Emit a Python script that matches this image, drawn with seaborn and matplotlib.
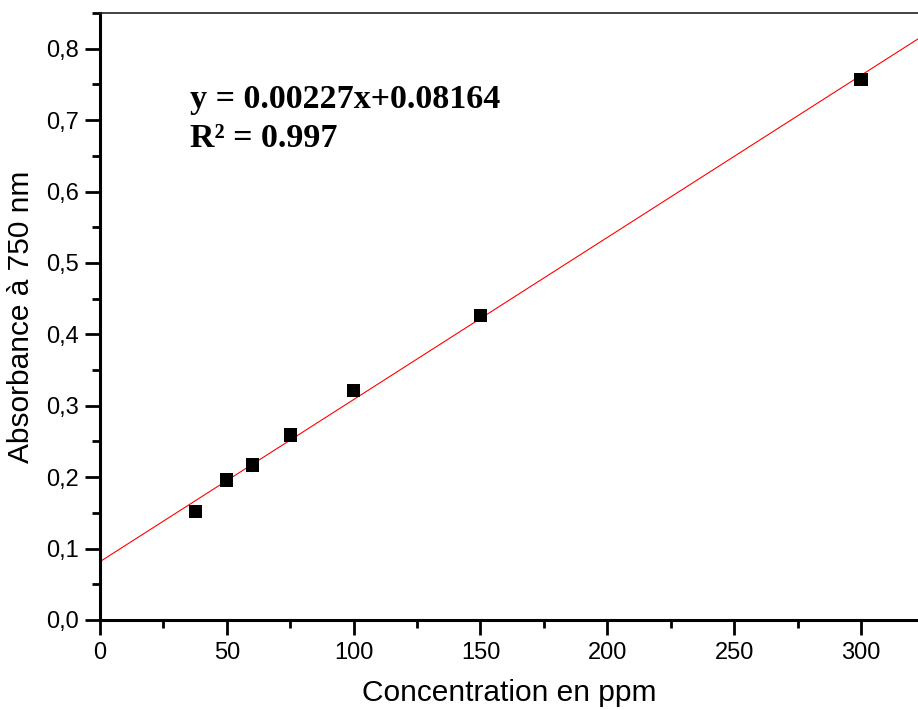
import matplotlib
matplotlib.use("Agg")
import matplotlib.pyplot as plt
import seaborn as sns
import numpy as np
from matplotlib.ticker import MultipleLocator, FuncFormatter

# data
concentration = [37.5, 50, 60, 75, 100, 150, 300]
absorbance = [0.152, 0.196, 0.217, 0.259, 0.321, 0.426, 0.757]
slope = 0.00227
intercept = 0.08164
r_squared = 0.997

sns.set_style("ticks")
plt.rcParams['font.family'] = ['Liberation Sans', 'DejaVu Sans']

fig = plt.figure(figsize=(9.18, 7.1), dpi=100)
ax = fig.add_axes([0.1089, 0.1268, 0.8911, 0.8549])

xmax = 322.5
fit_x = np.array([0.0, xmax])
sns.lineplot(x=fit_x, y=slope * fit_x + intercept, ax=ax, color="red", linewidth=0.8)
sns.scatterplot(x=concentration, y=absorbance, ax=ax, marker="s", s=90,
                color="black", edgecolor="none", zorder=3)

ax.set_xlim(0, xmax)
ax.set_ylim(0, 0.85)
ax.xaxis.set_major_locator(MultipleLocator(50))
ax.xaxis.set_minor_locator(MultipleLocator(25))
ax.yaxis.set_major_locator(MultipleLocator(0.1))
ax.yaxis.set_minor_locator(MultipleLocator(0.05))
ax.yaxis.set_major_formatter(FuncFormatter(lambda v, p: f"{v:.1f}".replace(".", ",")))

ax.tick_params(which="major", length=11, width=2, labelsize=17,
               colors="black", labelcolor="black")
ax.tick_params(which="minor", length=6, width=2, colors="black")
ax.tick_params(axis="x", pad=5)
ax.tick_params(axis="y", pad=4)

for side in ["left", "bottom"]:
    ax.spines[side].set_linewidth(2.2)
    ax.spines[side].set_color("black")
ax.spines["top"].set_linewidth(1.2)
ax.spines["top"].set_color("#222222")
ax.spines["right"].set_visible(False)

ax.set_xlabel("Concentration en ppm", fontsize=21.5, labelpad=11, color="black")
ax.set_ylabel("Absorbance à 750 nm", fontsize=21.5, labelpad=8, color="black")

ax.text(35.4, 0.717, f"y = {slope:.5f}x+{intercept:.5f}", fontsize=24.5,
        fontweight="bold", color="black", family=["Liberation Serif", "DejaVu Serif"])
ax.text(35.4, 0.663, f"R² = {r_squared}", fontsize=24.5,
        fontweight="bold", color="black", family=["Liberation Serif", "DejaVu Serif"])

fig.savefig("out.png", dpi=100)
